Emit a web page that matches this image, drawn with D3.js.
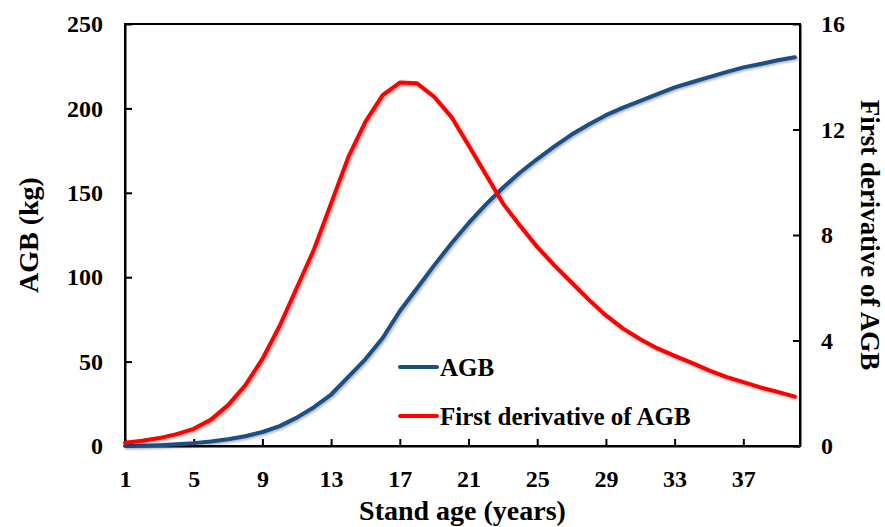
<!DOCTYPE html>
<html>
<head>
<meta charset="utf-8">
<script src="https://cdn.jsdelivr.net/npm/d3@7"></script>
<style>
  body { margin: 0; background: #fff; }
  text { font-family: "Liberation Serif", "Times New Roman", serif; font-weight: bold; fill: #000; }
  .axis path, .axis line { stroke: #000; stroke-width: 2; }
</style>
</head>
<body>
<div class="chartContainer"></div>
<script>
const WIDTH = 885;
const HEIGHT = 527;
const LEFT = 125, RIGHT = 800, TOP = 24, BOTTOM = 446;

// stand age in years
var years = [];
for (var i = 1; i <= 40; i++) years.push(i);

// AGB (kg), left axis
var agb = [0.05, 0.2, 0.5, 1.0, 1.7, 2.7, 4.0, 5.8, 8.3, 11.8,
           16.8, 23.0, 30.5, 41.0, 51.5, 64.0, 80.0, 93.5, 107.0, 120.0,
           132.0, 143.0, 153.0, 162.0, 170.0, 177.5, 184.5, 190.5, 196.0, 200.5,
           204.5, 208.5, 212.5, 215.5, 218.5, 221.5, 224.3, 226.3, 228.5, 230.3];

// first derivative of AGB, right axis
var deriv = [0.12, 0.2, 0.3, 0.45, 0.65, 1.0, 1.55, 2.3, 3.3, 4.55,
             6.0, 7.45, 9.2, 10.95, 12.3, 13.3, 13.78, 13.75, 13.24, 12.48,
             11.4, 10.3, 9.2, 8.35, 7.55, 6.85, 6.2, 5.55, 4.95, 4.45,
             4.05, 3.7, 3.42, 3.15, 2.87, 2.62, 2.42, 2.22, 2.05, 1.87];

var xTicks = [1, 5, 9, 13, 17, 21, 25, 29, 33, 37];
var leftTicks = [0, 50, 100, 150, 200, 250];
var rightTicks = [0, 4, 8, 12, 16];

var xScale = d3.scaleLinear().domain([1, 40.3]).range([LEFT, RIGHT]);
var yLeft = d3.scaleLinear().domain([0, 250]).range([BOTTOM, TOP]);
var yRight = d3.scaleLinear().domain([0, 16]).range([BOTTOM, TOP]);

var svg = d3.select(".chartContainer").append("svg")
    .attr("width", WIDTH)
    .attr("height", HEIGHT);

var defs = svg.append("defs");
defs.append("filter").attr("id", "shadow")
    .attr("x", "-5%").attr("y", "-5%").attr("width", "110%").attr("height", "110%")
  .append("feDropShadow")
    .attr("dx", 1.5).attr("dy", 1.5).attr("stdDeviation", 1)
    .attr("flood-color", "#000").attr("flood-opacity", 0.3);

// frame
svg.append("rect")
    .attr("x", LEFT).attr("y", TOP)
    .attr("width", RIGHT - LEFT).attr("height", BOTTOM - TOP)
    .attr("fill", "none").attr("stroke", "#000").attr("stroke-width", 2);

// axes, ticks pointing inward
var xAxis = svg.append("g").attr("class", "axis")
    .attr("transform", "translate(0," + BOTTOM + ")")
    .call(d3.axisBottom(xScale).tickValues(xTicks).tickSizeInner(-7).tickSizeOuter(0).tickPadding(24));
xAxis.selectAll("text").attr("font-size", 24);

var lAxis = svg.append("g").attr("class", "axis")
    .attr("transform", "translate(" + LEFT + ",0)")
    .call(d3.axisLeft(yLeft).tickValues(leftTicks).tickSizeInner(-7).tickSizeOuter(0).tickPadding(22));
lAxis.selectAll("text").attr("font-size", 24);

var rAxis = svg.append("g").attr("class", "axis")
    .attr("transform", "translate(" + RIGHT + ",0)")
    .call(d3.axisRight(yRight).tickValues(rightTicks).tickSizeInner(-7).tickSizeOuter(0).tickPadding(21));
rAxis.selectAll("text").attr("font-size", 24);

// lines
var lineAgb = d3.line()
    .x(function(d, i) { return xScale(years[i]); })
    .y(function(d) { return yLeft(d); });
var lineDeriv = d3.line()
    .x(function(d, i) { return xScale(years[i]); })
    .y(function(d) { return yRight(d); });

svg.append("path")
    .attr("d", lineAgb(agb))
    .attr("fill", "none").attr("stroke", "#1b4f83").attr("stroke-width", 4)
    .attr("stroke-linejoin", "round").attr("stroke-linecap", "round")
    .attr("filter", "url(#shadow)");

svg.append("path")
    .attr("d", lineDeriv(deriv))
    .attr("fill", "none").attr("stroke", "#ff0000").attr("stroke-width", 4)
    .attr("stroke-linejoin", "round").attr("stroke-linecap", "round")
    .attr("filter", "url(#shadow)");

// legend
var legend = [
  { name: "AGB", color: "#1b4f83", y: 367 },
  { name: "First derivative of AGB", color: "#ff0000", y: 416 }
];
legend.forEach(function(l) {
  svg.append("line")
      .attr("x1", 400).attr("x2", 437).attr("y1", l.y).attr("y2", l.y)
      .attr("stroke", l.color).attr("stroke-width", 4).attr("stroke-linecap", "round");
  svg.append("text")
      .attr("x", 440).attr("y", l.y + 9)
      .attr("font-size", 25)
      .text(l.name);
});

// axis titles
svg.append("text")
    .attr("x", (LEFT + RIGHT) / 2).attr("y", 520)
    .attr("text-anchor", "middle").attr("font-size", 28)
    .text("Stand age (years)");

svg.append("text")
    .attr("transform", "translate(38," + ((TOP + BOTTOM) / 2) + ") rotate(-90)")
    .attr("text-anchor", "middle").attr("font-size", 28)
    .text("AGB (kg)");

svg.append("text")
    .attr("transform", "translate(861," + ((TOP + BOTTOM) / 2) + ") rotate(90)")
    .attr("text-anchor", "middle").attr("font-size", 27)
    .text("First derivative of AGB");
</script>
</body>
</html>
